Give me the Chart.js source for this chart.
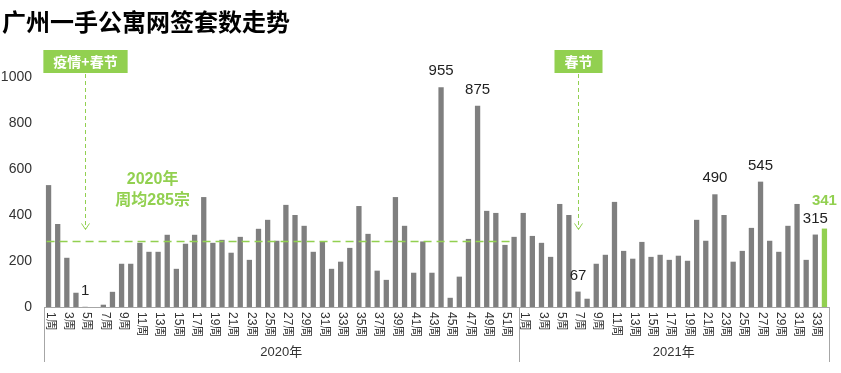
<!DOCTYPE html>
<html>
<head>
<meta charset="utf-8">
<title>广州一手公寓网签套数走势</title>
<script src="https://cdn.jsdelivr.net/npm/chart.js@4.4.1/dist/chart.umd.min.js"></script>
<style>
  body { margin: 0; background: #fff; }
  canvas { display: block; }
</style>
</head>
<body>
<canvas id="chart" width="841" height="373"></canvas>
<script>
const chartTitle = "广州一手公寓网签套数走势";
const years = ["2020年", "2021年"];

// weekly signed units
const sales2020 = [530, 361, 214, 62, 1, 0, 10, 66, 188, 188,
  279, 240, 240, 314, 166, 275, 314, 478, 279, 292,
  236, 305, 205, 340, 379, 288, 444, 400, 353, 240,
  285, 166, 197, 257, 439, 318, 158, 118, 478, 353,
  149, 285, 149, 955, 40, 132, 296, 875, 418, 409,
  270, 305];
const sales2021 = [409, 309, 279, 218, 448, 400, 67, 36, 188, 227,
  457, 244, 210, 283, 218, 227, 205, 223, 201, 379,
  288, 490, 400, 197, 244, 344, 545, 288, 240, 353,
  448, 205, 315, 341];

// weeks that carry a value label
const labelled2020 = [5, 44, 48];
const labelled2021 = [7, 22, 27, 33, 34];

const yTicks = [0, 200, 400, 600, 800, 1000];
const avg2020 = 285;
const avgText = ["2020年", "周均285宗"];
const noteText = ["疫情+春节", "春节"];
const noteWeek = [[0, 5], [1, 7]]; // [year index, week]

const green = "#92d050";
const gray = "#7f7f7f";

/* build the category list and colours from the arrays above */
const weekLabels = [];
[sales2020, sales2021].forEach((arr) => {
  arr.forEach((v, i) => {
    weekLabels.push((i + 1) + "周");
  });
});
const allSales = sales2020.concat(sales2021);
const barColors = allSales.map((v, i) => (i === allSales.length - 1 ? green : gray));
const labelIdx = labelled2020.map(w => w - 1).concat(labelled2021.map(w => sales2020.length + w - 1));

function idxOf(yearIndex, week) {
  return (yearIndex === 0 ? 0 : sales2020.length) + week - 1;
}

const drawExtras = {
  id: "drawExtras",
  afterDatasetsDraw(chart) {
    const { ctx, chartArea, scales: { x, y } } = chart;
    const bars = chart.getDatasetMeta(0).data;
    ctx.save();

    // title
    ctx.fillStyle = "#000";
    ctx.font = "bold 24px 'Noto Sans CJK SC'";
    ctx.textAlign = "left";
    ctx.textBaseline = "middle";
    ctx.fillText(chartTitle, 2, 22);

    // week labels, vertical, top to bottom
    ctx.fillStyle = "#333";
    ctx.font = "12px 'Liberation Sans', 'Noto Sans CJK SC'";
    weekLabels.forEach((lab, i) => {
      if (parseInt(lab) % 2 === 0) return;
      ctx.save();
      ctx.translate(bars[i].x + 1.5, chartArea.bottom + 5);
      ctx.rotate(Math.PI / 2);
      ctx.textAlign = "left";
      ctx.textBaseline = "middle";
      ctx.fillText(lab, 0, 0);
      ctx.restore();
    });

    // year separators and year names
    const split = (bars[sales2020.length - 1].x + bars[sales2020.length].x) / 2;
    ctx.strokeStyle = "#a6a6a6";
    ctx.lineWidth = 1;
    [chartArea.left, split, chartArea.right].forEach(px => {
      ctx.beginPath();
      ctx.moveTo(Math.round(px) + 0.5, chartArea.bottom);
      ctx.lineTo(Math.round(px) + 0.5, chartArea.bottom + 55);
      ctx.stroke();
    });
    ctx.font = "13px 'Liberation Sans', 'Noto Sans CJK SC'";
    ctx.textAlign = "center";
    ctx.fillText(years[0], (chartArea.left + split) / 2, chartArea.bottom + 45);
    ctx.fillText(years[1], (split + chartArea.right) / 2, chartArea.bottom + 45);

    // value labels
    labelIdx.forEach(i => {
      const last = i === allSales.length - 1;
      ctx.fillStyle = last ? green : "#222";
      ctx.font = (last ? "bold " : "") + "15px 'Liberation Sans'";
      ctx.fillText(allSales[i], bars[i].x, bars[i].y - (last ? 28 : 16));
    });

    // 2020 weekly average
    const avgY = y.getPixelForValue(avg2020);
    ctx.strokeStyle = green;
    ctx.lineWidth = 1.5;
    ctx.setLineDash([8, 5]);
    ctx.beginPath();
    ctx.moveTo(bars[0].x - 2, avgY);
    ctx.lineTo(bars[sales2020.length - 1].x, avgY);
    ctx.stroke();
    ctx.fillStyle = green;
    ctx.font = "bold 16px 'Liberation Sans', 'Noto Sans CJK SC'";
    const avgX = x.getPixelForValue(11.4);
    ctx.fillText(avgText[0], avgX, avgY - 62);
    ctx.fillText(avgText[1], avgX, avgY - 41);

    // notes with dashed arrows
    noteWeek.forEach((nw, n) => {
      const px = Math.round(bars[idxOf(nw[0], nw[1])].x) + 0.5;
      ctx.font = "bold 14px 'Noto Sans CJK SC'";
      const w = ctx.measureText(noteText[n]).width + 20;
      ctx.setLineDash([]);
      ctx.fillStyle = green;
      ctx.fillRect(px - w / 2, 50, w, 23);
      ctx.fillStyle = "#fff";
      ctx.fillText(noteText[n], px, 61.5);
      const endY = avgY - 12;
      ctx.strokeStyle = green;
      ctx.lineWidth = 1;
      ctx.setLineDash([4, 3]);
      ctx.beginPath();
      ctx.moveTo(px, 74);
      ctx.lineTo(px, endY);
      ctx.stroke();
      ctx.setLineDash([]);
      ctx.beginPath();
      ctx.moveTo(px - 4, endY - 6);
      ctx.lineTo(px, endY);
      ctx.lineTo(px + 4, endY - 6);
      ctx.stroke();
    });

    ctx.restore();
  }
};

new Chart(document.getElementById("chart"), {
  type: "bar",
  data: {
    labels: weekLabels,
    datasets: [{
      data: allSales,
      backgroundColor: barColors,
      barPercentage: 0.58,
      categoryPercentage: 1
    }]
  },
  options: {
    responsive: false,
    animation: false,
    layout: { padding: { top: 77, right: 12, left: 0, bottom: 0 } },
    plugins: {
      legend: { display: false },
      tooltip: { enabled: false }
    },
    scales: {
      x: {
        grid: { display: false, drawTicks: false },
        border: { color: "#a6a6a6" },
        ticks: { display: false },
        afterFit: (s) => { s.height = 66; }
      },
      y: {
        min: yTicks[0],
        max: yTicks[yTicks.length - 1],
        afterBuildTicks: (s) => { s.ticks = yTicks.map(v => ({ value: v })); },
        ticks: {
          padding: 12,
          color: "#333",
          font: { size: 14, family: "'Liberation Sans'" },
          callback: (v) => String(v)
        },
        grid: { display: false, drawTicks: false },
        border: { display: false },
        afterFit: (s) => { s.width = 44; }
      }
    }
  },
  plugins: [drawExtras]
});
</script>
</body>
</html>
